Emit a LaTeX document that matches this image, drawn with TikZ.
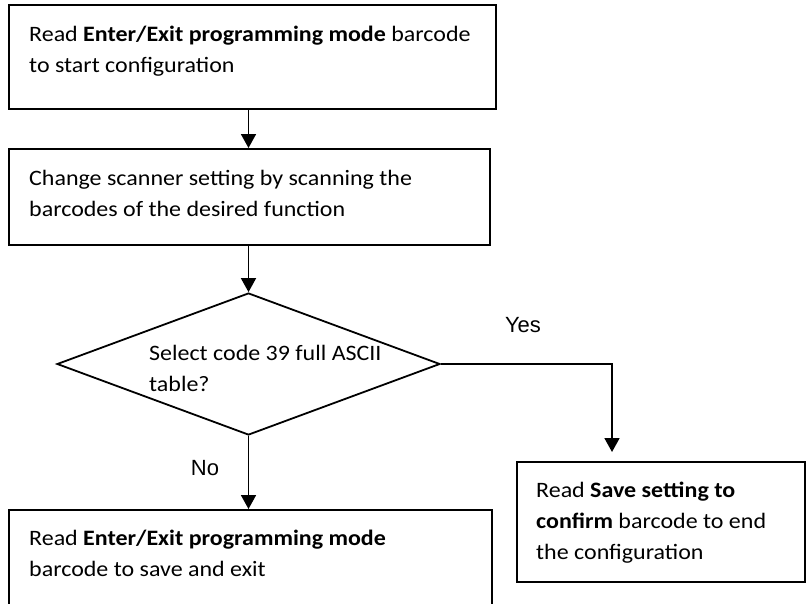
\documentclass[tikz,border=0pt]{standalone}
\usepackage{fontspec}
\setmainfont{Carlito}[FakeStretch=1.09]
\newfontfamily\labelfont{Liberation Sans}
\usetikzlibrary{arrows.meta,shapes.geometric}
\begin{document}
\begin{tikzpicture}[x=1pt,y=-1pt,
  box/.style={draw, line width=1.8pt, rectangle, inner sep=0pt, anchor=north west},
  txt/.style={anchor=base west, inner sep=0pt, font=\fontsize{22}{31}\selectfont},
  lbl/.style={anchor=base, inner sep=0pt, font=\labelfont\fontsize{22}{26}\selectfont},
  conn/.style={line width=1.8pt, -{Triangle[width=15pt,length=14pt]}}]
\useasboundingbox (0,0) rectangle (806,603);
\clip (0,0) rectangle (806,603);
\node[box, minimum width=487pt, minimum height=104pt] (b1) at (8,4) {};
\node[box, minimum width=481pt, minimum height=96pt] (b2) at (8,148) {};
\node[draw, diamond, line width=1.8pt, minimum width=383pt, minimum height=142pt, inner sep=0pt] (d) at (248.5,364) {};
\node[box, minimum width=483pt, minimum height=200pt] (b3) at (8,509) {};
\node[box, minimum width=288pt, minimum height=120pt] (b4) at (516,461) {};
\node[txt] (t1) at (29,41) {\parbox[t]{460pt}{Read \textbf{Enter/Exit programming mode} barcode\\to start configuration}};
\node[txt] (t2) at (29,185) {\parbox[t]{460pt}{Change scanner setting by scanning the\\barcodes of the desired function}};
\node[txt] (td) at (149,360) {\parbox[t]{300pt}{Select code 39 full ASCII\\table?}};
\node[txt] (t3) at (29,545) {\parbox[t]{460pt}{Read \textbf{Enter/Exit programming mode}\\barcode to save and exit}};
\node[txt] (t4) at (536,497) {\parbox[t]{260pt}{Read \textbf{Save setting to}\\\textbf{confirm} barcode to end\\the configuration}};
\node[lbl] (yes) at (523,332) {Yes};
\node[lbl] (no) at (205,475) {No};
\coordinate (yesend) at (612,452);
\draw[conn] (b1.south -| d.north) -- (b2.north -| d.north);
\draw[conn] (b2.south -| d.north) -- (d.north);
\draw[conn] (d.south) -- (b3.north -| d.south);
\draw[conn] (d.east) -| (yesend);
\end{tikzpicture}
\end{document}
